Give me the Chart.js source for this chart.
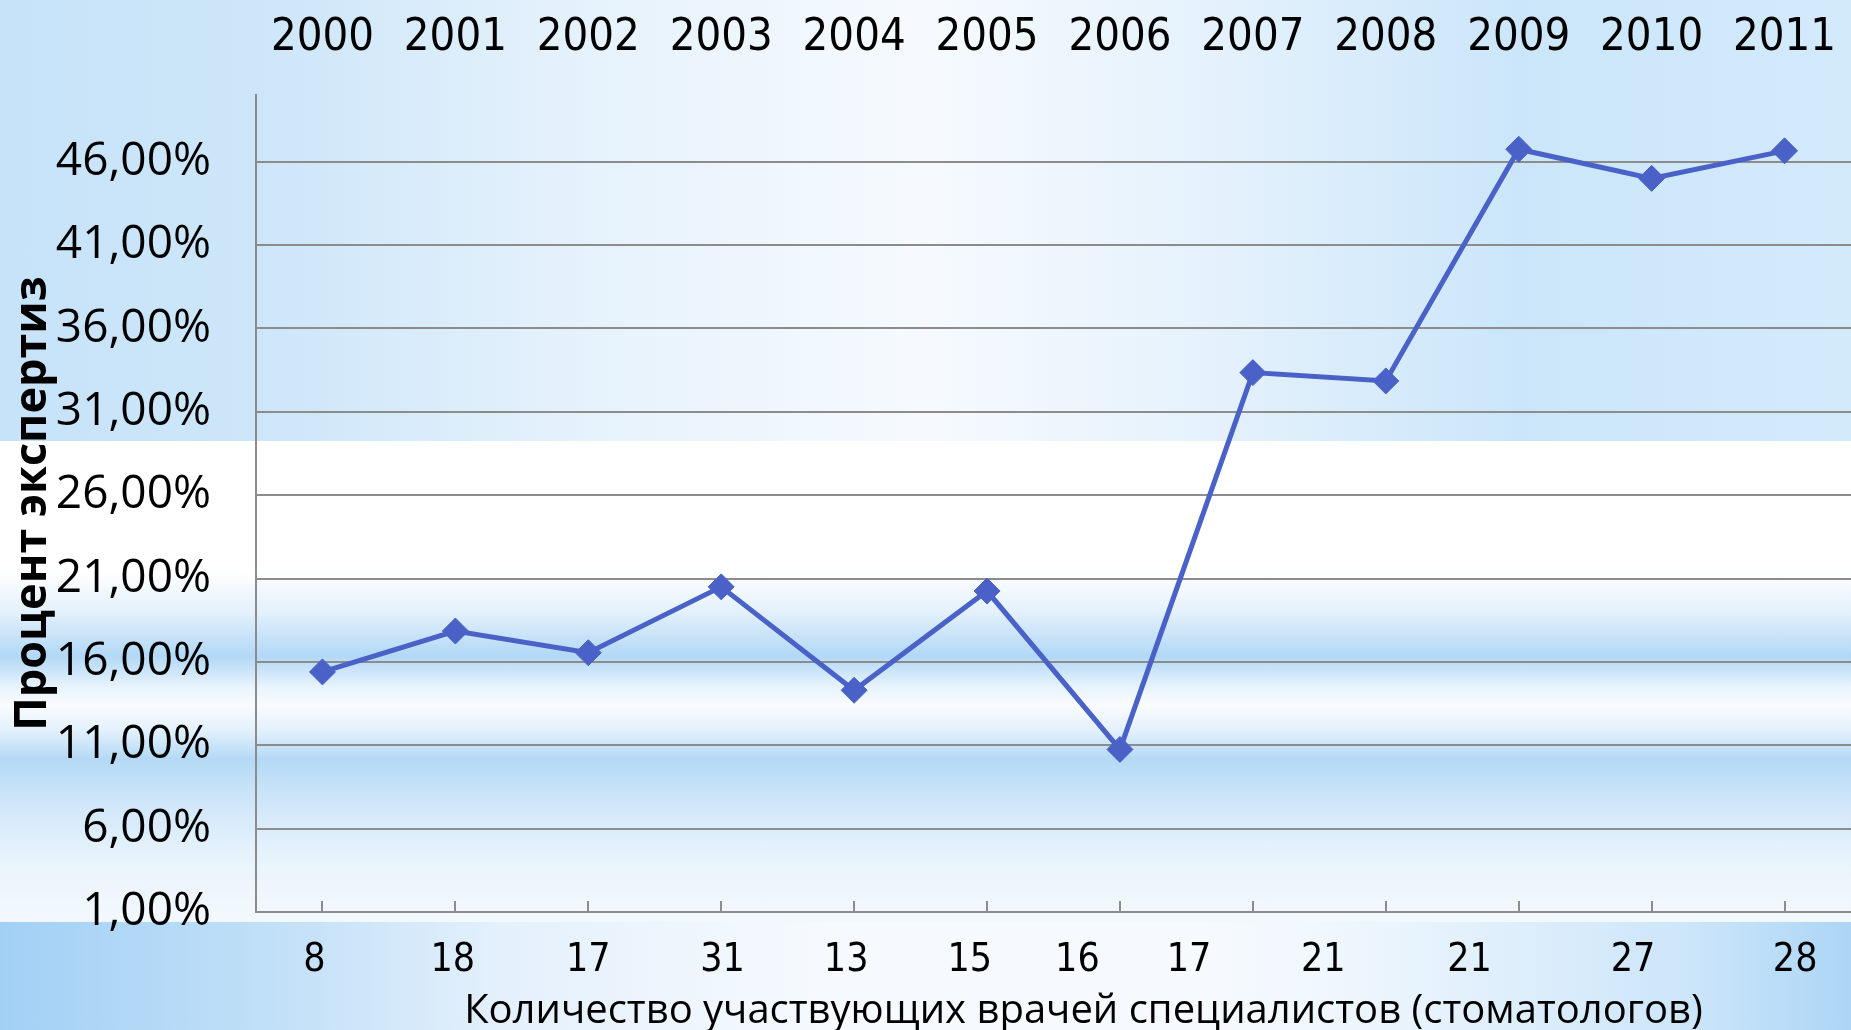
<!DOCTYPE html>
<html lang="ru">
<head>
    <meta charset="UTF-8">
    <title>Процент экспертиз</title>
    <style>
        html, body {
            margin: 0;
            padding: 0;
        }
        body {
            width: 1851px;
            height: 1030px;
            overflow: hidden;
            background:
                linear-gradient(to right, #a2d0f5 0%, #c4e1f8 16%, #e4f0fc 27%, #f6fafe 45%, #f6fafe 65%, #eef6fd 73%, #cde6fa 91%, #acd5f6 100%) 0 922px / 100% 108px no-repeat,
                linear-gradient(to right, #c7e3f9 0%, #cde6f9 14%, #e6f2fc 32%, #f6fafe 50%, #e4f1fc 66%, #cbe6fa 82%, #d3eafb 100%) 0 0 / 100% 441px no-repeat,
                linear-gradient(to bottom, #ffffff 0px, #ffffff 130px, #e4f1fc 170px, #b2d8f6 215px, #e6f2fc 245px, #fafcfe 264px, #e2f0fc 290px, #b4d9f6 318px, #cfe6f9 360px, #e9f4fc 420px, #f3f8fd 481px) 0 441px / 100% 481px no-repeat;
        }
        .chart-box {
            position: relative;
            width: 1851px;
            height: 1030px;
        }
    </style>
    <script src="https://cdn.jsdelivr.net/npm/chart.js"></script>
</head>
<body>
    <div class="chart-box">
        <canvas id="expertiseChart"></canvas>
    </div>

    <script>
        const years = ['2000', '2001', '2002', '2003', '2004', '2005', '2006', '2007', '2008', '2009', '2010', '2011'];
        const doctorCounts = ['8', '18', '17', '31', '13', '15', '16', '17', '21', '21', '27', '28'];
        const expertisePct = [15.4, 17.85, 16.55, 20.5, 14.3, 20.25, 10.75, 33.35, 32.85, 46.75, 45.0, 46.65];
        const yTicks = [1, 6, 11, 16, 21, 26, 31, 36, 41, 46];

        // where each doctor count sits under the axis, in category units
        const countLabelAt = [-0.06, 0.98, 2.0, 3.01, 3.94, 4.87, 5.68, 6.52, 7.53, 8.63, 9.86, 11.08];

        const xTitle = 'Количество участвующих врачей специалистов (стоматологов)';

        const AXIS_GRAY = '#8c8c8c';
        const LINE_BLUE = '#4a62c8';
        const NARROW = "'DejaVu Sans Condensed', 'Open Sans', sans-serif";

        Chart.defaults.font.family = "'Open Sans', 'Noto Sans', sans-serif";
        Chart.defaults.color = '#000';

        // keep the plot flush with the canvas edges
        function noEdgePadding(scale) {
            scale.paddingLeft = 0;
            scale.paddingRight = 0;
            scale.paddingTop = 0;
            scale.paddingBottom = 0;
        }

        // short tick marks pointing up from the bottom axis line, one per year
        const innerTicks = {
            id: 'innerTicks',
            beforeDatasetsDraw(chart) {
                const xs = chart.scales.x;
                const bottom = chart.chartArea.bottom;
                const ctx = chart.ctx;
                ctx.save();
                ctx.strokeStyle = AXIS_GRAY;
                ctx.lineWidth = 2;
                ctx.beginPath();
                years.forEach((_, i) => {
                    const px = Math.round(xs.getPixelForValue(i));
                    ctx.moveTo(px, bottom);
                    ctx.lineTo(px, bottom - 11);
                });
                ctx.stroke();
                ctx.restore();
            }
        };

        // bottom caption, set a little right of the plot centre
        const bottomCaption = {
            id: 'bottomCaption',
            afterDraw(chart) {
                const area = chart.chartArea;
                const ctx = chart.ctx;
                ctx.save();
                ctx.font = "40px 'Open Sans', sans-serif";
                ctx.fillStyle = '#000';
                ctx.textAlign = 'center';
                ctx.textBaseline = 'middle';
                ctx.fillText(xTitle, (area.left + area.right) / 2 + 30, chart.height - 18);
                ctx.restore();
            }
        };

        const ctx = document.getElementById('expertiseChart').getContext('2d');
        new Chart(ctx, {
            type: 'line',
            data: {
                labels: years,
                datasets: [{
                    data: expertisePct,
                    xAxisID: 'x',
                    yAxisID: 'y',
                    borderColor: LINE_BLUE,
                    backgroundColor: LINE_BLUE,
                    borderWidth: 5,
                    pointStyle: 'rectRot',
                    pointRadius: 13,
                    pointBorderWidth: 1,
                    pointBorderColor: LINE_BLUE,
                    fill: false,
                    tension: 0
                }]
            },
            options: {
                responsive: true,
                maintainAspectRatio: false,
                animation: false,
                layout: { padding: 0, autoPadding: false },
                plugins: {
                    legend: { display: false },
                    tooltip: { enabled: false }
                },
                scales: {
                    x: {
                        type: 'category',
                        position: 'top',
                        offset: true,
                        grid: { display: false },
                        border: { display: false },
                        ticks: {
                            font: { family: NARROW, size: 45 },
                            padding: 22,
                            maxRotation: 0,
                            autoSkip: false
                        },
                        afterFit(scale) {
                            scale.height = 95;
                            noEdgePadding(scale);
                        }
                    },
                    count: {
                        type: 'linear',
                        position: 'bottom',
                        min: -0.5,
                        max: 11.5,
                        grid: { display: false, drawTicks: false },
                        border: { display: true, color: AXIS_GRAY, width: 2 },
                        afterBuildTicks(scale) {
                            scale.ticks = countLabelAt.map(v => ({ value: v }));
                        },
                        ticks: {
                            font: { family: NARROW, size: 39 },
                            padding: 25,
                            maxRotation: 0,
                            autoSkip: false,
                            callback: (value, index) => doctorCounts[index]
                        },
                        afterFit(scale) {
                            scale.height = 118;
                            noEdgePadding(scale);
                        }
                    },
                    y: {
                        min: 1,
                        max: 50,
                        afterBuildTicks(scale) {
                            scale.ticks = yTicks.map(v => ({ value: v }));
                        },
                        grid: {
                            color: AXIS_GRAY,
                            lineWidth: 2,
                            drawTicks: false
                        },
                        border: { display: true, color: AXIS_GRAY, width: 2 },
                        ticks: {
                            font: { size: 46 },
                            padding: 45,
                            callback: v => v.toFixed(2).replace('.', ',') + '%'
                        },
                        title: {
                            display: true,
                            text: 'Процент экспертиз',
                            font: { size: 45, weight: 'bold' },
                            padding: { top: 6, bottom: 0 }
                        },
                        afterFit(scale) {
                            scale.width = 256;
                            noEdgePadding(scale);
                        }
                    }
                }
            },
            plugins: [innerTicks, bottomCaption]
        });
    </script>
</body>
</html>
